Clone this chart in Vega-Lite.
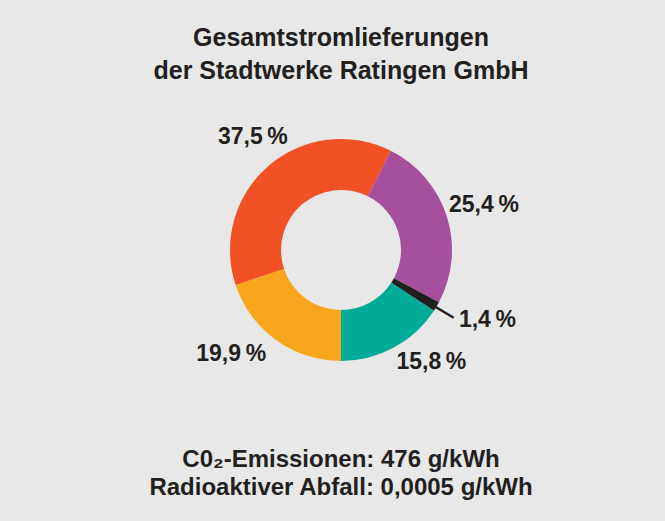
{
  "$schema": "https://vega.github.io/schema/vega-lite/v6.json",
  "padding": {"left": 61, "top": 26, "right": 44, "bottom": 21},
  "background": "#e7e8e7",
  "config": {"view": {"stroke": null}, "font": "Liberation Sans"},
  "title": {
    "text": ["C0₂-Emissionen: 476 g/kWh", "Radioaktiver Abfall: 0,0005 g/kWh"],
    "orient": "bottom", "anchor": "middle", "fontSize": 24, "fontWeight": "bold",
    "color": "#231f20", "lineHeight": 28, "offset": 48, "font": "Liberation Sans"
  },
  "vconcat": [
    {
      "width": 560,
      "height": 300,
      "title": {
        "text": ["Gesamtstromlieferungen", "der Stadtwerke Ratingen GmbH"],
        "anchor": "middle", "fontSize": 25, "fontWeight": "bold", "color": "#231f20",
        "lineHeight": 33, "offset": 16, "font": "Liberation Sans"
      },
      "data": {
        "values": [
          {"cat": "Kernkraft", "share": 19.9, "label": "19,9\u2009%", "pos": 1},
          {"cat": "Erneuerbare Energien", "share": 37.5, "label": "37,5\u2009%", "pos": 2},
          {"cat": "Kohle", "share": 25.4, "label": "25,4\u2009%", "pos": 3},
          {"cat": "Sonstige fossile Energieträger", "share": 1.4, "label": "1,4\u2009%", "pos": 4},
          {"cat": "Erdgas", "share": 15.8, "label": "15,8\u2009%", "pos": 5}
        ]
      },
      "layer": [
        {
          "mark": {"type": "arc", "radius": 111, "radius2": 60, "stroke": null},
          "encoding": {
            "theta": {"field": "share", "type": "quantitative", "stack": true, "scale": {"domain": [0, 100], "range": [3.141592653589793, 9.42477796076938]}},
            "order": {"field": "pos", "type": "quantitative"},
            "color": {"field": "cat", "type": "nominal", "legend": null,
              "scale": {"domain": ["Kernkraft", "Erneuerbare Energien", "Kohle", "Sonstige fossile Energieträger", "Erdgas"],
                        "range": ["#f8a61e", "#f15124", "#a54f9d", "#231f20", "#00ab97"]}}
          }
        },
        {
          "mark": {"type": "text", "radius": 150, "dx": 10, "fontSize": 23, "fontWeight": "bold", "color": "#231f20", "align": "center", "baseline": "middle", "font": "Liberation Sans"},
          "encoding": {
            "theta": {"field": "share", "type": "quantitative", "stack": true, "scale": {"domain": [0, 100], "range": [3.141592653589793, 9.42477796076938]}},
            "order": {"field": "pos", "type": "quantitative"},
            "text": {"condition": {"test": "datum.pos === 2", "field": "label", "type": "nominal"}, "value": ""}
          }
        },
        {
          "mark": {"type": "text", "radius": 150, "fontSize": 23, "fontWeight": "bold", "color": "#231f20", "align": "center", "baseline": "middle", "font": "Liberation Sans"},
          "encoding": {
            "theta": {"field": "share", "type": "quantitative", "stack": true, "scale": {"domain": [0, 100], "range": [3.141592653589793, 9.42477796076938]}},
            "order": {"field": "pos", "type": "quantitative"},
            "text": {"condition": {"test": "datum.pos === 3", "field": "label", "type": "nominal"}, "value": ""}
          }
        },
        {
          "mark": {"type": "text", "radius": 127, "dx": -5, "fontSize": 23, "fontWeight": "bold", "color": "#231f20", "align": "left", "baseline": "middle", "font": "Liberation Sans"},
          "encoding": {
            "theta": {"field": "share", "type": "quantitative", "stack": true, "scale": {"domain": [0, 100], "range": [3.141592653589793, 9.42477796076938]}},
            "order": {"field": "pos", "type": "quantitative"},
            "text": {"condition": {"test": "datum.pos === 5", "field": "label", "type": "nominal"}, "value": ""}
          }
        },
        {
          "mark": {"type": "text", "radius": 137, "fontSize": 23, "fontWeight": "bold", "color": "#231f20", "align": "left", "baseline": "middle", "font": "Liberation Sans"},
          "encoding": {
            "theta": {"field": "share", "type": "quantitative", "stack": true, "scale": {"domain": [0, 100], "range": [3.141592653589793, 9.42477796076938]}},
            "order": {"field": "pos", "type": "quantitative"},
            "text": {"condition": {"test": "datum.pos === 4", "field": "label", "type": "nominal"}, "value": ""}
          }
        },
        {
          "mark": {"type": "text", "radius": 128, "fontSize": 23, "fontWeight": "bold", "color": "#231f20", "align": "right", "baseline": "middle", "font": "Liberation Sans"},
          "encoding": {
            "theta": {"field": "share", "type": "quantitative", "stack": true, "scale": {"domain": [0, 100], "range": [3.141592653589793, 9.42477796076938]}},
            "order": {"field": "pos", "type": "quantitative"},
            "text": {"condition": {"test": "datum.pos === 1", "field": "label", "type": "nominal"}, "value": ""}
          }
        },
        {
          "mark": {"type": "text", "radius": 120, "angle": 31, "fontSize": 23, "fontWeight": "bold", "color": "#231f20", "align": "center", "baseline": "middle", "font": "Liberation Sans"},
          "encoding": {
            "theta": {"field": "share", "type": "quantitative", "stack": true, "scale": {"domain": [0, 100], "range": [3.141592653589793, 9.42477796076938]}},
            "order": {"field": "pos", "type": "quantitative"},
            "text": {"condition": {"test": "datum.pos === 4", "value": "—"}, "value": ""}
          }
        }
      ]
    }
  ]
}
